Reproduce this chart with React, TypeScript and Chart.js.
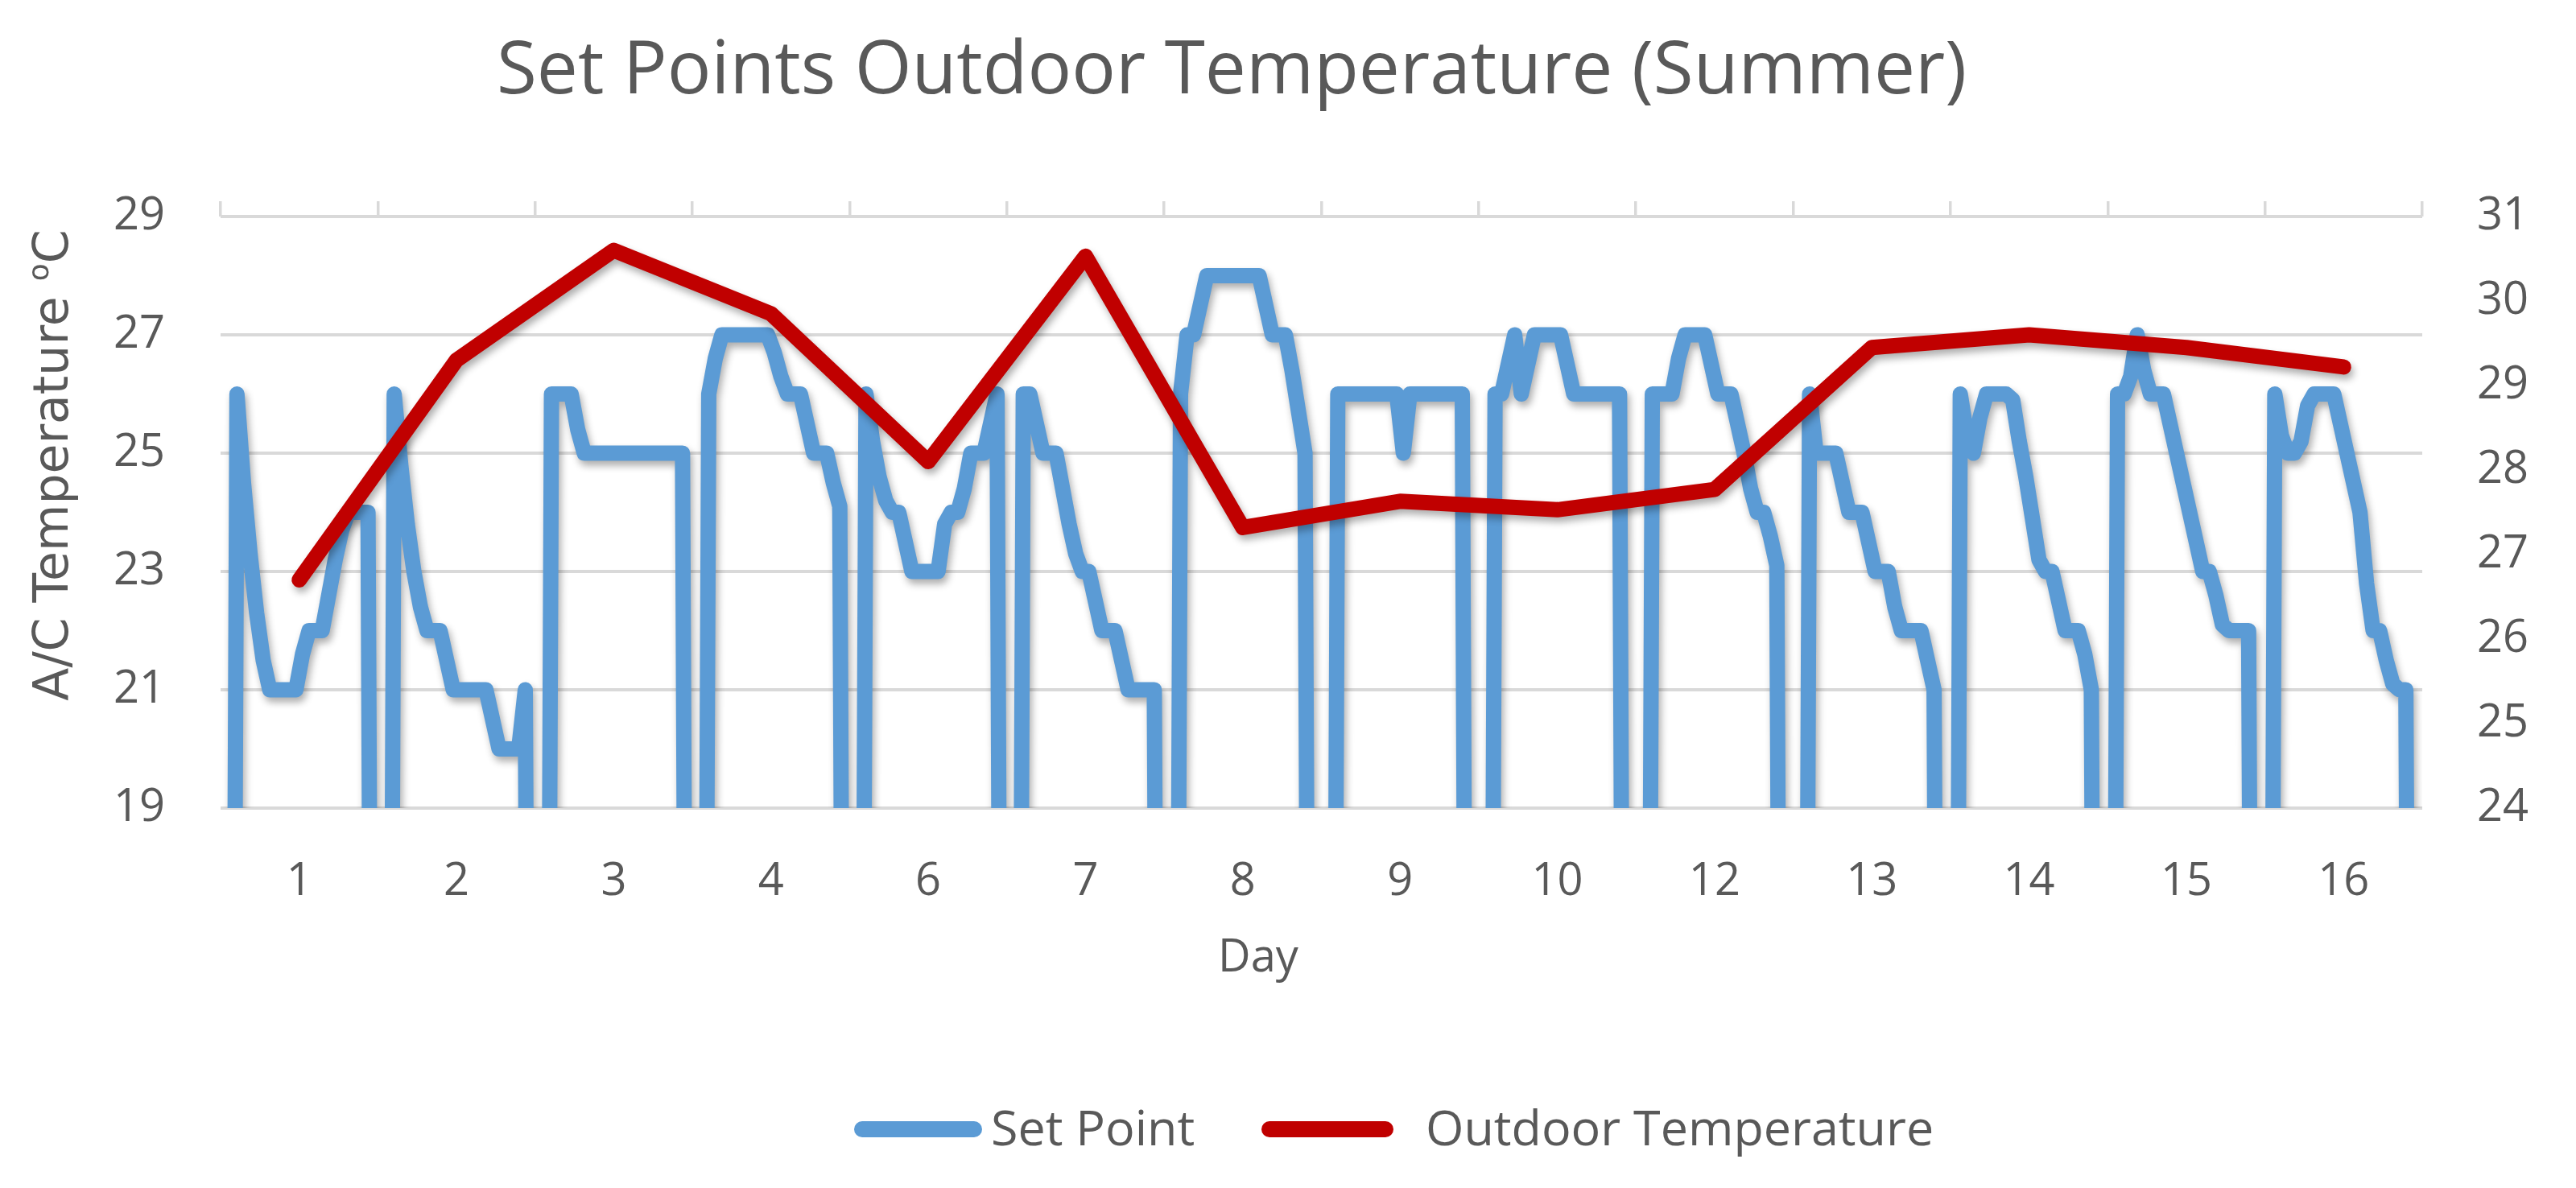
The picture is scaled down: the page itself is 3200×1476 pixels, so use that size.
import React, { useEffect, useRef } from 'react';
import { Chart, registerables } from 'chart.js';

Chart.register(...registerables);

// ---------- data ----------
const DAY_LABELS = ['1', '2', '3', '4', '6', '7', '8', '9', '10', '12', '13', '14', '15', '16'];

// daily outdoor temperature (right axis)
const OUTDOOR_TEMP = [26.7, 29.3, 30.6, 29.85, 28.1, 30.53, 27.32, 27.63, 27.53, 27.77, 29.45, 29.6, 29.45, 29.22];

// hourly A/C set points (left axis); 0 = A/C off (below the axis floor)
const SET_POINT_DAY_1 = [0, 0, 26, 24.5, 23.3, 22.3, 21.5, 21, 21, 21, 21, 21, 21.6, 22, 22, 22, 22.6, 23.2, 23.7, 24, 24, 24, 24, 0];
const SET_POINT_DAY_2 = [0, 0, 26, 24.8, 23.8, 23, 22.4, 22, 22, 22, 21.5, 21, 21, 21, 21, 21, 21, 20.5, 20, 20, 20, 20, 21, 0];
const SET_POINT_DAY_3 = [0, 0, 26, 26, 26, 26, 25.4, 25, 25, 25, 25, 25, 25, 25, 25, 25, 25, 25, 25, 25, 25, 25, 25, 0];
const SET_POINT_DAY_4 = [0, 0, 26, 26.6, 27, 27, 27, 27, 27, 27, 27, 27, 26.7, 26.3, 26, 26, 26, 25.5, 25, 25, 25, 24.5, 24.1, 0];
const SET_POINT_DAY_6 = [0, 0, 26, 25.2, 24.6, 24.2, 24, 24, 23.5, 23, 23, 23, 23, 23, 23.8, 24, 24, 24.4, 25, 25, 25, 25.5, 26, 0];
const SET_POINT_DAY_7 = [0, 0, 26, 26, 25.5, 25, 25, 25, 24.4, 23.8, 23.3, 23, 23, 22.5, 22, 22, 22, 21.5, 21, 21, 21, 21, 21, 0];
const SET_POINT_DAY_8 = [0, 0, 26, 27, 27, 27.5, 28, 28, 28, 28, 28, 28, 28, 28, 28, 27.5, 27, 27, 27, 26.4, 25.7, 25, 0, 0];
const SET_POINT_DAY_9 = [0, 0, 26, 26, 26, 26, 26, 26, 26, 26, 26, 26, 25, 26, 26, 26, 26, 26, 26, 26, 26, 26, 0, 0];
const SET_POINT_DAY_10 = [0, 0, 26, 26, 26.5, 27, 26, 26.5, 27, 27, 27, 27, 27, 26.5, 26, 26, 26, 26, 26, 26, 26, 26, 0, 0];
const SET_POINT_DAY_12 = [0, 0, 26, 26, 26, 26, 26.6, 27, 27, 27, 27, 26.5, 26, 26, 26, 25.5, 25, 24.4, 24, 24, 23.6, 23.1, 0, 0];
const SET_POINT_DAY_13 = [0, 0, 26, 25, 25, 25, 25, 24.5, 24, 24, 24, 23.5, 23, 23, 23, 22.4, 22, 22, 22, 22, 21.5, 21, 0, 0];
const SET_POINT_DAY_14 = [0, 26, 25.3, 25, 25.6, 26, 26, 26, 26, 25.9, 25.2, 24.6, 23.9, 23.2, 23, 23, 22.5, 22, 22, 22, 21.6, 21, 0, 0];
const SET_POINT_DAY_15 = [0, 26, 26, 26.3, 27, 26.4, 26, 26, 26, 25.5, 25, 24.5, 24, 23.5, 23, 23, 22.6, 22.1, 22, 22, 22, 22, 0, 0];
const SET_POINT_DAY_16 = [0, 26, 25.3, 25, 25, 25.2, 25.8, 26, 26, 26, 26, 25.5, 25, 24.5, 24, 22.8, 22, 22, 21.5, 21.1, 21, 21, 0, 0];

const SET_POINT_DAYS = [
  SET_POINT_DAY_1, SET_POINT_DAY_2, SET_POINT_DAY_3, SET_POINT_DAY_4, SET_POINT_DAY_6,
  SET_POINT_DAY_7, SET_POINT_DAY_8, SET_POINT_DAY_9, SET_POINT_DAY_10, SET_POINT_DAY_12,
  SET_POINT_DAY_13, SET_POINT_DAY_14, SET_POINT_DAY_15, SET_POINT_DAY_16,
];

const LEFT_AXIS = { min: 19, max: 29, step: 2 };
const RIGHT_AXIS = { min: 24, max: 31, step: 1 };

const TITLE = 'Set Points Outdoor Temperature (Summer)';
const X_TITLE = 'Day';
const Y_TITLE_MAIN = 'A/C Temperature ';
const Y_TITLE_SUP = 'o';
const Y_TITLE_END = 'C';

// ---------- styles ----------
const BLUE = '#5B9BD5';
const RED = '#C00000';
const TEXT = '#595959';
const GRID = '#D9D9D9';
const FONT = "'Open Sans', sans-serif";
const W = 3200;
const H = 1476;
const LINE_W = 19;

const shadowPlugin = {
  id: 'lineShadow',
  beforeDatasetDraw(chart: any) {
    const ctx = chart.ctx;
    ctx.save();
    ctx.shadowColor = 'rgba(0,0,0,0.32)';
    ctx.shadowBlur = 10;
    ctx.shadowOffsetX = 3;
    ctx.shadowOffsetY = 6;
  },
  afterDatasetDraw(chart: any) {
    chart.ctx.restore();
  },
};

const decorPlugin = {
  id: 'decor',
  beforeDraw(chart: any) {
    const ctx = chart.ctx;
    ctx.save();
    ctx.fillStyle = '#ffffff';
    ctx.fillRect(0, 0, chart.width, chart.height);
    ctx.restore();
  },
  afterDraw(chart: any) {
    const ctx = chart.ctx;
    ctx.save();
    ctx.fillStyle = TEXT;
    ctx.textBaseline = 'alphabetic';
    ctx.textAlign = 'center';

    // chart title
    ctx.font = `91px ${FONT}`;
    ctx.fillText(TITLE, 1530, 116);

    // x-axis title
    ctx.font = `56px ${FONT}`;
    ctx.fillText(X_TITLE, 1563, 1207);

    // y-axis title (rotated, with superscript o)
    ctx.save();
    ctx.translate(84, 578);
    ctx.rotate(-Math.PI / 2);
    const mainFont = `60px 'DejaVu Sans', sans-serif`;
    const supFont = `36px 'DejaVu Sans', sans-serif`;
    ctx.font = mainFont;
    const wMain = ctx.measureText(Y_TITLE_MAIN).width;
    const wEnd = ctx.measureText(Y_TITLE_END).width;
    ctx.font = supFont;
    const wSup = ctx.measureText(Y_TITLE_SUP).width;
    const total = wMain + wSup + wEnd;
    ctx.textAlign = 'left';
    let x0 = -total / 2;
    ctx.font = mainFont;
    ctx.fillText(Y_TITLE_MAIN, x0, 0);
    x0 += wMain;
    ctx.font = supFont;
    ctx.fillText(Y_TITLE_SUP, x0, -24);
    x0 += wSup;
    ctx.font = mainFont;
    ctx.fillText(Y_TITLE_END, x0, 0);
    ctx.restore();

    // legend
    const ds = chart.data.datasets;
    const items = [
      { d: ds[0], x1: 1071, x2: 1210, tx: 1231 },
      { d: ds[1], x1: 1577, x2: 1721, tx: 1771 },
    ];
    ctx.textAlign = 'left';
    ctx.font = `61px ${FONT}`;
    items.forEach((it) => {
      ctx.save();
      ctx.strokeStyle = it.d.borderColor;
      ctx.lineWidth = 20;
      ctx.lineCap = 'round';
      ctx.beginPath();
      ctx.moveTo(it.x1, 1403);
      ctx.lineTo(it.x2, 1403);
      ctx.stroke();
      ctx.restore();
      ctx.fillStyle = TEXT;
      ctx.fillText(it.d.label, it.tx, 1423);
    });
    ctx.restore();
  },
};

export default function App() {
  const canvasRef = useRef<HTMLCanvasElement | null>(null);

  useEffect(() => {
    document.body.style.margin = '0';
    const canvas = canvasRef.current;
    if (!canvas) return;

    const setPointData = SET_POINT_DAYS.flatMap((day, d) =>
      day.map((v, h) => ({ x: d + (h + 0.5) / day.length, y: v }))
    );
    const outdoorData = OUTDOOR_TEMP.map((v, d) => ({ x: d + 0.5, y: v }));

    const tickFont = { family: FONT, size: 56 };

    const chart = new Chart(canvas, {
      type: 'line',
      data: {
        datasets: [
          {
            label: 'Set Point',
            data: setPointData,
            xAxisID: 'xd',
            yAxisID: 'y',
            borderColor: BLUE,
            backgroundColor: BLUE,
            borderWidth: LINE_W,
            pointRadius: 0,
            pointHoverRadius: 0,
            borderJoinStyle: 'round',
            borderCapStyle: 'round',
            tension: 0,
            clip: 0,
            order: 2,
          } as any,
          {
            label: 'Outdoor Temperature',
            data: outdoorData,
            xAxisID: 'xd',
            yAxisID: 'y1',
            borderColor: RED,
            backgroundColor: RED,
            borderWidth: LINE_W,
            pointRadius: 0,
            pointHoverRadius: 0,
            borderJoinStyle: 'round',
            borderCapStyle: 'round',
            tension: 0,
            order: 1,
          } as any,
        ],
      },
      options: {
        animation: false,
        responsive: false,
        maintainAspectRatio: false,
        devicePixelRatio: 1,
        layout: { padding: 0 },
        events: [],
        plugins: {
          legend: { display: false },
          title: { display: false },
          tooltip: { enabled: false },
        },
        scales: {
          xd: {
            type: 'linear',
            display: false,
            min: 0,
            max: DAY_LABELS.length,
          },
          xTop: {
            type: 'category',
            position: 'top',
            labels: DAY_LABELS,
            offset: true,
            grid: {
              offset: true,
              drawOnChartArea: false,
              drawTicks: true,
              tickLength: 19,
              color: GRID,
              lineWidth: 3.5,
            },
            ticks: { display: false },
            border: { display: false },
            afterFit: (s: any) => { s.height = 269; },
          },
          x: {
            type: 'category',
            position: 'bottom',
            labels: DAY_LABELS,
            offset: true,
            grid: { display: false, drawTicks: false },
            border: { display: false },
            ticks: {
              font: tickFont,
              color: TEXT,
              padding: 58,
              autoSkip: false,
              maxRotation: 0,
            },
            afterFit: (s: any) => { s.height = 472; },
          },
          y: {
            type: 'linear',
            position: 'left',
            min: LEFT_AXIS.min,
            max: LEFT_AXIS.max,
            ticks: { stepSize: LEFT_AXIS.step, font: tickFont, color: TEXT, padding: 69 },
            grid: { color: GRID, lineWidth: 4, drawTicks: false },
            border: { display: false },
            afterFit: (s: any) => { s.width = 274; },
          },
          y1: {
            type: 'linear',
            position: 'right',
            min: RIGHT_AXIS.min,
            max: RIGHT_AXIS.max,
            ticks: { stepSize: RIGHT_AXIS.step, font: tickFont, color: TEXT, padding: 68 },
            grid: { drawOnChartArea: false, drawTicks: false },
            border: { display: false },
            afterFit: (s: any) => { s.width = 191; },
          },
        },
      } as any,
      plugins: [decorPlugin, shadowPlugin],
    });

    return () => {
      chart.destroy();
    };
  }, []);

  return (
    <div style={{ width: W, height: H }}>
      <canvas ref={canvasRef} width={W} height={H} style={{ display: 'block', width: W, height: H }} />
    </div>
  );
}
